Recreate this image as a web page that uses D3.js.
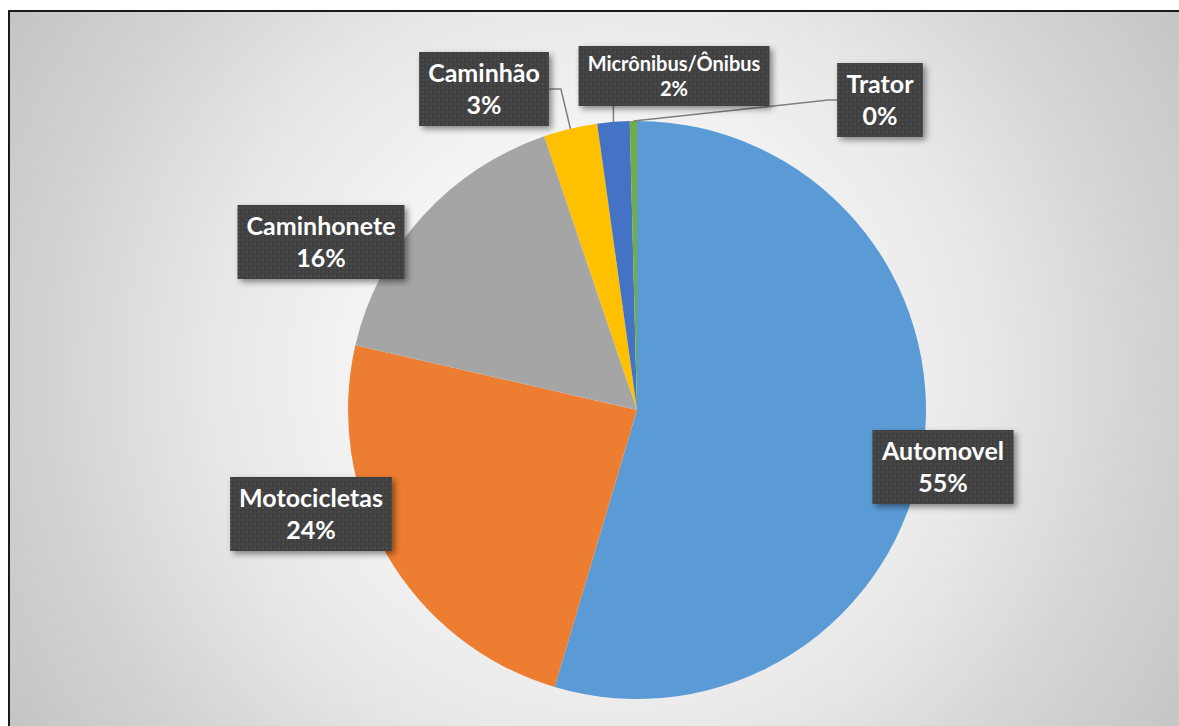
<!DOCTYPE html>
<html lang="pt">
<head>
<meta charset="UTF-8">
<title>Pizza - Tipos de veículo</title>
<script src="https://d3js.org/d3.v7.min.js"></script>
<style>
  body { margin: 0; background: #fff; font-family: Lato, "Open Sans", sans-serif; }
  svg { display: block; }
</style>
</head>
<body>
<svg id="chart" width="1179" height="726"></svg>
<script>
// data
const categories = ["Automovel", "Motocicletas", "Caminhonete", "Caminhão", "Micrônibus/Ônibus", "Trator"];
const values = [54.6, 24.0, 16.2, 3.0, 1.8, 0.4];
const colors = ["#5b9bd5", "#ed7d31", "#a5a5a5", "#ffc000", "#4472c4", "#70ad47"];

// label boxes: centre relative to pie centre, font size, leader kind
const labelLayout = {
  "Automovel":         { dx: 306,  dy: 57,   fs: 25, lh: 32, leader: null },
  "Motocicletas":      { dx: -326, dy: 104,  fs: 25, lh: 32, leader: null },
  "Caminhonete":       { dx: -316, dy: -168, fs: 25, lh: 32, leader: null },
  "Caminhão":          { dx: -153, dy: -321, fs: 25, lh: 32, leader: "right" },
  "Micrônibus/Ônibus": { dx: 37,   dy: -334, fs: 20, lh: 25, leader: "bottom" },
  "Trator":            { dx: 243,  dy: -310, fs: 25, lh: 32, leader: "left" }
};

const W = 1179, H = 726;
const cx = 637, cy = 410, radius = 289;

const svg = d3.select("#chart");
const defs = svg.append("defs");

const grad = defs.append("radialGradient")
    .attr("id", "bg")
    .attr("gradientUnits", "userSpaceOnUse")
    .attr("cx", 600).attr("cy", 370).attr("r", 695);
[[0, "#ffffff"], [0.3, "#f6f6f6"], [0.55, "#e8e8e8"], [0.8, "#d2d2d2"], [1, "#c4c4c4"]]
  .forEach(([o, c]) => grad.append("stop").attr("offset", o).attr("stop-color", c));

const pat = defs.append("pattern")
    .attr("id", "dots")
    .attr("patternUnits", "userSpaceOnUse")
    .attr("width", 8).attr("height", 8);
pat.append("rect").attr("width", 8).attr("height", 8).attr("fill", "#3f3f3f");
[[1, 1, "#4e4e4e"], [5, 1, "#474747"], [1, 5, "#474747"], [5, 5, "#4e4e4e"]]
  .forEach(([x, y, c]) => pat.append("rect").attr("x", x).attr("y", y).attr("width", 2).attr("height", 2).attr("fill", c));

const shadow = defs.append("filter").attr("id", "shadow")
    .attr("x", "-20%").attr("y", "-20%").attr("width", "150%").attr("height", "160%");
shadow.append("feDropShadow")
    .attr("dx", 3).attr("dy", 3).attr("stdDeviation", 3)
    .attr("flood-color", "#000").attr("flood-opacity", 0.45);

// chart area
svg.append("rect")
    .attr("x", 9).attr("y", 11)
    .attr("width", W + 50).attr("height", H + 50)
    .attr("fill", "url(#bg)")
    .attr("stroke", "#1a1a1a")
    .attr("stroke-width", 2);

const data = categories.map((c, i) => ({ name: c, value: values[i], color: colors[i] }));
const total = d3.sum(values);
const pct = d3.format(".0%");

const pie = d3.pie().value(d => d.value).sort(null);
const arcs = pie(data);
const arc = d3.arc().innerRadius(0).outerRadius(radius);

const g = svg.append("g").attr("transform", `translate(${cx},${cy})`);

g.selectAll("path.slice")
  .data(arcs)
  .join("path")
    .attr("class", "slice")
    .attr("d", arc)
    .attr("fill", d => d.data.color);

// labels
const labelG = g.append("g");
arcs.forEach(a => {
  const L = labelLayout[a.data.name];
  const lg = labelG.append("g");
  const rect = lg.append("rect")
      .attr("fill", "url(#dots)")
      .attr("filter", "url(#shadow)");
  const txt = lg.append("text")
      .attr("text-anchor", "middle")
      .attr("fill", "#fff")
      .attr("font-weight", "bold")
      .attr("font-size", L.fs);
  txt.append("tspan").attr("x", L.dx).attr("y", L.dy - L.lh / 2 + L.fs * 0.37).text(a.data.name);
  txt.append("tspan").attr("x", L.dx).attr("y", L.dy + L.lh / 2 + L.fs * 0.37).text(pct(a.data.value / total));

  const bb = txt.node().getBBox();
  const bw = bb.width + 18;
  const bh = L.lh * 2 + 10;
  const bx = L.dx - bw / 2, by = L.dy - bh / 2;
  rect.attr("x", bx).attr("y", by).attr("width", bw).attr("height", bh);

  if (L.leader) {
    const mid = (a.startAngle + a.endAngle) / 2;
    const p = [Math.sin(mid) * radius, -Math.cos(mid) * radius];
    let pts;
    if (L.leader === "right") {
      pts = [[bx + bw, L.dy], [bx + bw + 12, L.dy], p];
    } else if (L.leader === "left") {
      pts = [[bx, L.dy], [bx - 9, L.dy], p];
    } else {
      pts = [[p[0], by + bh], p];
    }
    labelG.insert("path", ":first-child")
        .attr("d", d3.line()(pts))
        .attr("fill", "none")
        .attr("stroke", "#7f7f7f")
        .attr("stroke-width", 1.5);
  }
});
</script>
</body>
</html>
